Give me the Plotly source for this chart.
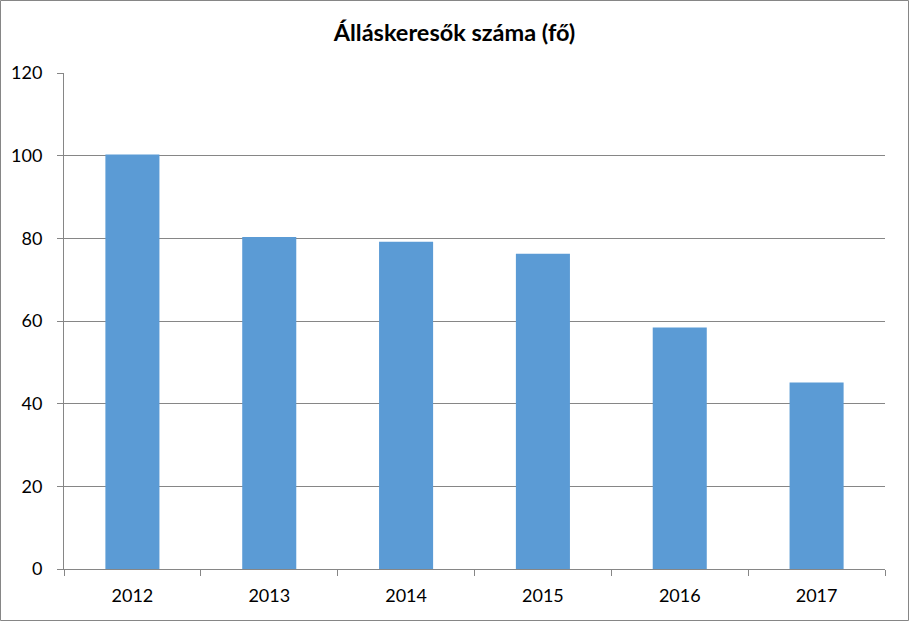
import plotly.graph_objects as go

years = ["2012", "2013", "2014", "2015", "2016", "2017"]
values = [100.3, 80.3, 79.2, 76.3, 58.4, 45.1]
title_text = "Álláskeresők száma (fő)"
y_ticks = [0, 20, 40, 60, 80, 100, 120]

W, H = 909, 621
ml, mr, mt, mb = 64, 24, 73, 52
pw, ph = W - ml - mr, H - mt - mb

font_family = "Lato, Carlito, Liberation Sans, Arial, sans-serif"
grid = "#868686"

fig = go.Figure(go.Bar(x=years, y=values, marker_color="#5B9BD5", marker_line_width=0))

fig.update_layout(
    width=W, height=H,
    margin=dict(l=ml, r=mr, t=mt, b=mb),
    paper_bgcolor="white", plot_bgcolor="white",
    bargap=0.605,
    showlegend=False,
    title=dict(text="<b>" + title_text + "</b>", x=0.5, xanchor="center",
               y=1 - 33 / H, yanchor="middle",
               font=dict(family=font_family, size=23.5, color="#000000")),
    font=dict(family=font_family, size=18, color="#000000"),
    shapes=[dict(type="rect", xref="paper", yref="paper",
                 x0=-(ml - 0.5) / pw, x1=1 + (mr - 0.5) / pw,
                 y0=-(mb - 0.5) / ph, y1=1 + (mt - 0.5) / ph,
                 line=dict(color=grid, width=1), layer="below")],
)
fig.update_xaxes(type="category", showgrid=False, showline=True, linecolor=grid, linewidth=1,
                 ticks="outside", ticklen=6, tickcolor=grid, tickson="boundaries",
                 ticklabelstandoff=10)
fig.update_yaxes(range=[0, 120], tickvals=y_ticks, showgrid=True, gridcolor=grid, gridwidth=1,
                 showline=True, linecolor=grid, linewidth=1, zeroline=False,
                 ticks="outside", ticklen=6, tickcolor=grid, ticklabelstandoff=11)

fig.write_html("out.html", config={"displayModeBar": False},
               post_script="document.body.style.margin='0';document.body.style.overflow='hidden';")
